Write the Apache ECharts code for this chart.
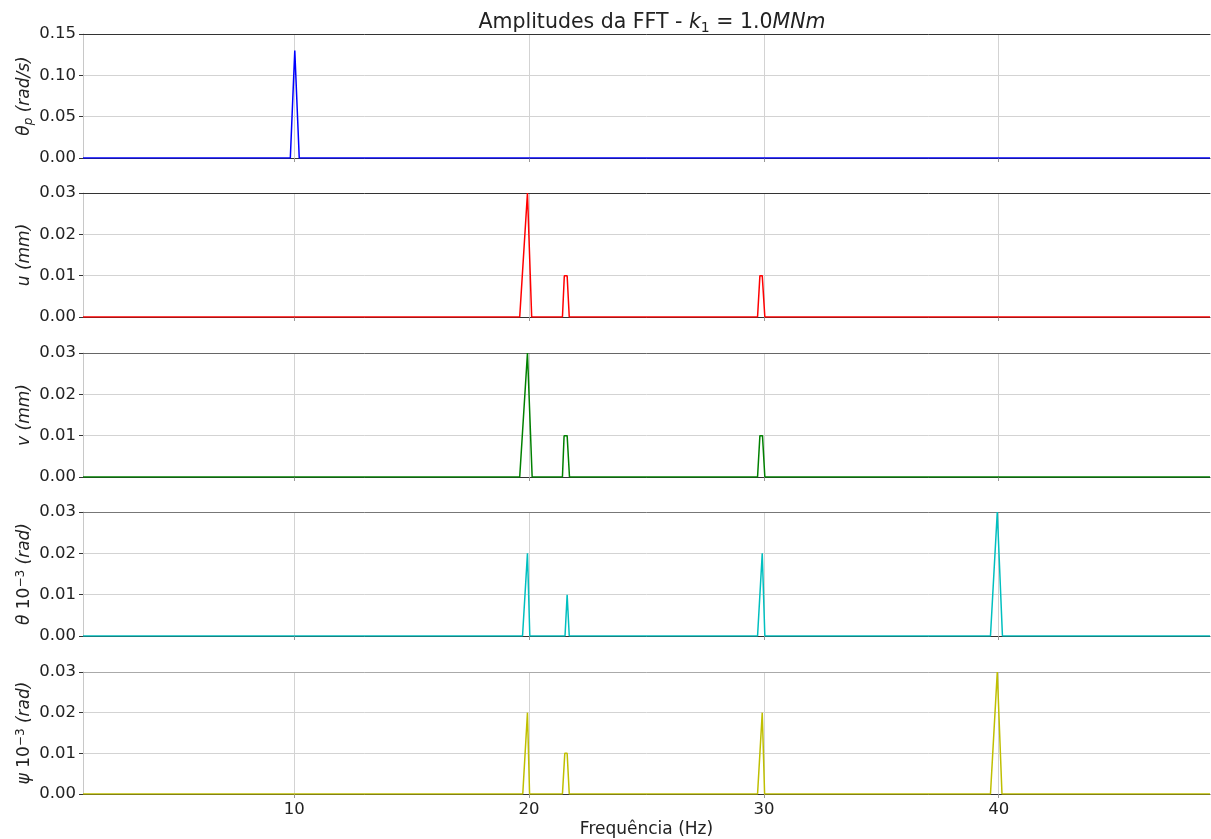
<!DOCTYPE html>
<html>
<head>
<meta charset="utf-8">
<script src="https://cdn.jsdelivr.net/npm/echarts@6/dist/echarts.min.js"></script>
<style>
html,body{margin:0;padding:0;background:#fff;}
#c{width:1211px;height:839px;}
</style>
</head>
<body>
<div id="c"></div>
<script>
// ---- data ----
const xTicks = [10, 20, 30, 40];
const freqThetaP = [1, 9.83, 10.02, 10.21, 49];
const ampThetaP  = [0, 0, 0.13, 0, 0];

const freqU = [1, 19.60, 19.93, 20.11, 21.42, 21.50, 21.62, 21.71, 29.73, 29.83, 29.93, 30.04, 49];
const ampU  = [0, 0, 0.03, 0, 0, 0.01, 0.01, 0, 0, 0.01, 0.01, 0, 0];

const freqV = [1, 19.60, 19.93, 20.13, 21.42, 21.49, 21.62, 21.72, 29.73, 29.83, 29.94, 30.04, 49];
const ampV  = [0, 0, 0.03, 0, 0, 0.01, 0.01, 0, 0, 0.01, 0.01, 0, 0];

const freqTheta = [1, 19.72, 19.93, 20.03, 21.53, 21.62, 21.71, 29.73, 29.93, 30.04, 39.65, 39.94, 40.16, 49];
const ampTheta  = [0, 0, 0.02, 0, 0, 0.01, 0, 0, 0.02, 0, 0, 0.03, 0, 0];

const freqPsi = [1, 19.73, 19.93, 20.02, 21.42, 21.52, 21.62, 21.71, 29.73, 29.93, 30.03, 39.65, 39.94, 40.14, 49];
const ampPsi  = [0, 0, 0.02, 0, 0, 0.01, 0.01, 0, 0, 0.02, 0, 0, 0.03, 0, 0];

const yMax = [0.15, 0.03, 0.03, 0.03, 0.03];
const yInterval = [0.05, 0.01, 0.01, 0.01, 0.01];
const yNames = [
  '{i|θ}{sub|p}{i| (rad/s)}',
  '{i|u (mm)}',
  '{i|v (mm)}',
  '{i|θ} {n|10}{sup|−3}{i| (rad)}',
  '{i|ψ} {n|10}{sup|−3}{i| (rad)}'
];
const colors = ['#0000ff', '#ff0000', '#008000', '#00bfbf', '#bfbf00'];
const topSpine = ['#333', '#333', '#666', '#777', '#aaa'];

const freqs = [freqThetaP, freqU, freqV, freqTheta, freqPsi];
const amps = [ampThetaP, ampU, ampV, ampTheta, ampPsi];

// ---- chart ----
const FONT = 'DejaVu Sans';
const tops = [34, 193, 353, 512, 672];
const H = 124;
const LS = 17;

const grids = [], xAxes = [], yAxes = [], series = [];
for (let i = 0; i < 5; i++) {
  grids.push({left: 83, right: 1, top: tops[i], height: H, containLabel: false});
  const last = i === 4;
  xAxes.push({
    type: 'value', gridIndex: i, min: 1, max: 49,
    axisLine: {show: true, onZero: false, lineStyle: {color: '#333', width: 1}},
    axisTick: {show: true, length: 4, inside: false, customValues: xTicks, lineStyle: {color: '#999'}},
    axisLabel: {show: last, customValues: xTicks, fontFamily: FONT, fontSize: 16.5, color: '#222', margin: 7},
    splitLine: {show: true, lineStyle: {color: '#d3d3d3', width: 1}},
    name: last ? 'Frequência (Hz)' : '',
    nameLocation: 'middle', nameGap: 27, nameMoveOverlap: false,
    nameTextStyle: {fontFamily: FONT, fontSize: LS, color: '#222'}
  });
  yAxes.push({
    type: 'value', gridIndex: i, min: 0, max: yMax[i], interval: yInterval[i],
    axisLine: {show: true, lineStyle: {color: '#c8c8c8', width: 1}},
    axisTick: {show: true, length: 4, lineStyle: {color: '#333'}},
    axisLabel: {fontFamily: FONT, fontSize: 16.5, color: '#222', margin: 7,
      formatter: v => v.toFixed(2)},
    splitLine: {show: true, lineStyle: {color: '#d3d3d3', width: 1}},
    name: yNames[i], nameLocation: 'middle', nameRotate: 90, nameGap: 48, nameMoveOverlap: false,
    nameTextStyle: {fontFamily: FONT, fontSize: LS, color: '#222',
      rich: {
        i: {fontFamily: FONT, fontSize: LS, fontStyle: 'italic', color: '#222', lineHeight: 20, verticalAlign: 'middle'},
        n: {fontFamily: FONT, fontSize: LS, color: '#222', lineHeight: 20, verticalAlign: 'middle'},
        sub: {fontFamily: FONT, fontSize: 12, fontStyle: 'italic', color: '#222', lineHeight: 14, verticalAlign: 'bottom'},
        sup: {fontFamily: FONT, fontSize: 12, color: '#222', lineHeight: 12, verticalAlign: 'top'}
      }}
  });
  series.push({
    type: 'line', xAxisIndex: i, yAxisIndex: i,
    data: freqs[i].map((f, k) => [f, amps[i][k]]),
    showSymbol: false, symbol: 'none', silent: true,
    lineStyle: {color: colors[i], width: 1.5},
    clip: true, z: 5
  });
}
// top spines as extra x axes
for (let i = 0; i < 5; i++) {
  xAxes.push({
    type: 'value', gridIndex: i, min: 1, max: 49, position: 'top',
    axisLine: {show: true, onZero: false, lineStyle: {color: topSpine[i], width: 1}},
    axisTick: {show: false}, axisLabel: {show: false}, splitLine: {show: false}
  });
}

const chart = echarts.init(document.getElementById('c'), null, {renderer: 'canvas'});
chart.setOption({
  animation: false,
  backgroundColor: '#fff',
  title: {
    text: '{n|Amplitudes da FFT - }{i|k}{sub|1}{n| = 1.0}{i|MNm}',
    left: 647, top: 6, textAlign: 'center',
    textStyle: {
      fontFamily: FONT, fontSize: 20.5, fontWeight: 'normal', color: '#222',
      rich: {
        n: {fontFamily: FONT, fontSize: 20.5, color: '#222', lineHeight: 24, verticalAlign: 'middle'},
        i: {fontFamily: FONT, fontSize: 20.5, fontStyle: 'italic', color: '#222', lineHeight: 24, verticalAlign: 'middle'},
        sub: {fontFamily: FONT, fontSize: 14, color: '#222', lineHeight: 16, verticalAlign: 'bottom'}
      }
    }
  },
  grid: grids,
  xAxis: xAxes,
  yAxis: yAxes,
  series: series
});
</script>
</body>
</html>
